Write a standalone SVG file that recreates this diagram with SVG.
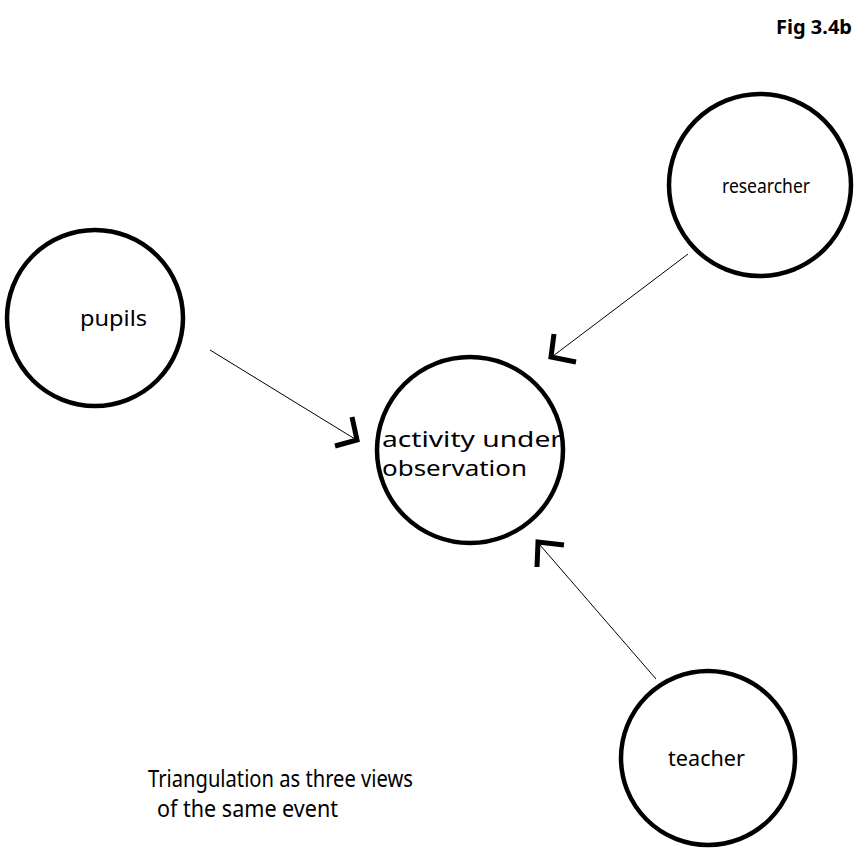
<svg xmlns="http://www.w3.org/2000/svg" width="859" height="851" viewBox="0 0 859 851">
  <style>
    .node { fill: #fff; stroke: #000; stroke-width: 4.5; }
    .label { font-family: "Noto Sans", "Open Sans", "DejaVu Sans", sans-serif; fill: #000; }
    .link { stroke: #000; stroke-width: 1; fill: none; }
    .head { stroke: #000; stroke-width: 5; fill: none; stroke-linejoin: miter; }
  </style>
  <rect width="859" height="851" fill="#fff"/>

  <text class="label" x="852" y="34" font-size="20" font-weight="bold" text-anchor="end">Fig 3.4b</text>

  <g id="connectors">
    <line class="link" x1="210" y1="350" x2="355" y2="439"/>
    <polyline class="head" points="352,417 357,440 335,446"/>
    <line class="link" x1="688" y1="254" x2="553" y2="356"/>
    <polyline class="head" points="554,334 551,357 576,362"/>
    <line class="link" x1="656" y1="679" x2="540" y2="545"/>
    <polyline class="head" points="564,545 538,542 537,567"/>
  </g>

  <g id="pupils">
    <circle class="node" cx="95" cy="318" r="88"/>
    <text class="label" x="80" y="326" font-size="21" textLength="67" lengthAdjust="spacingAndGlyphs">pupils</text>
  </g>

  <g id="researcher">
    <circle class="node" cx="760" cy="185" r="91"/>
    <text class="label" x="722" y="193" font-size="20" textLength="88" lengthAdjust="spacingAndGlyphs">researcher</text>
  </g>

  <g id="activity">
    <circle class="node" cx="470" cy="450" r="93"/>
    <text class="label" x="382" y="447" font-size="22" textLength="180" lengthAdjust="spacingAndGlyphs">activity under</text>
    <text class="label" x="382" y="476" font-size="22" textLength="145" lengthAdjust="spacingAndGlyphs">observation</text>
  </g>

  <g id="teacher">
    <circle class="node" cx="708" cy="758" r="87"/>
    <text class="label" x="668" y="766" font-size="21" textLength="77" lengthAdjust="spacingAndGlyphs">teacher</text>
  </g>

  <g id="caption">
    <text class="label" x="148" y="787" font-size="24" textLength="265" lengthAdjust="spacingAndGlyphs">Triangulation as three views</text>
    <text class="label" x="157" y="817" font-size="24" textLength="181" lengthAdjust="spacingAndGlyphs">of the same event</text>
  </g>
</svg>
